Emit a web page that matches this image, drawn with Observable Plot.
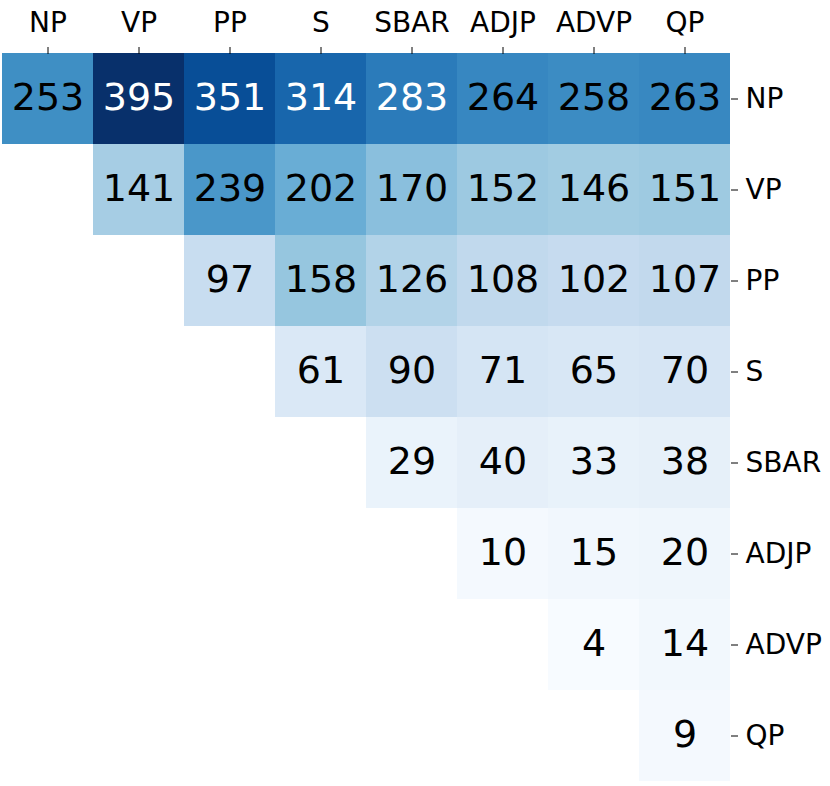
<!DOCTYPE html>
<html>
<head>
<meta charset="utf-8">
<script src="https://cdn.jsdelivr.net/npm/d3@7"></script>
<script src="https://cdn.jsdelivr.net/npm/@observablehq/plot@0.6"></script>
<style>
  html, body { margin: 0; padding: 0; background: #fff; }
  svg { display: block; }
</style>
</head>
<body>
<div id="chart"></div>
<script>
const labels = ["NP", "VP", "PP", "S", "SBAR", "ADJP", "ADVP", "QP"];
const rowNP   = [253, 395, 351, 314, 283, 264, 258, 263];
const rowVP   = [null, 141, 239, 202, 170, 152, 146, 151];
const rowPP   = [null, null, 97, 158, 126, 108, 102, 107];
const rowS    = [null, null, null, 61, 90, 71, 65, 70];
const rowSBAR = [null, null, null, null, 29, 40, 33, 38];
const rowADJP = [null, null, null, null, null, 10, 15, 20];
const rowADVP = [null, null, null, null, null, null, 4, 14];
const rowQP   = [null, null, null, null, null, null, null, 9];
const rows = [rowNP, rowVP, rowPP, rowS, rowSBAR, rowADJP, rowADVP, rowQP];
const blues = ["#f7fbff","#deebf7","#c6dbef","#9ecae1","#6baed6","#4292c6","#2171b5","#08519c","#08306b"];

const data = [];
rows.forEach((r, i) => r.forEach((v, j) => {
  if (v != null) data.push({row: labels[i], col: labels[j], value: v});
}));
const vals = data.map(d => d.value);

const chart = Plot.plot({
  width: 830,
  height: 786,
  marginLeft: 2,
  marginTop: 53,
  marginRight: 100,
  marginBottom: 5,
  style: {fontFamily: "DejaVu Sans", background: "#fff", color: "#000"},
  x: {domain: labels, padding: 0, axis: null},
  y: {domain: labels, padding: 0, axis: null},
  color: {type: "linear", domain: [d3.min(vals), d3.max(vals)], interpolate: d3.piecewise(d3.interpolateRgb, blues)},
  marks: [
    Plot.cell(data, {x: "col", y: "row", fill: "value", inset: 0, shapeRendering: "crispEdges"}),
    Plot.text(data, {x: "col", y: "row", text: d => String(d.value), fontSize: 38, dy: -1,
      fill: d => d.value > 275 ? "#fff" : "#000"}),
    Plot.axisX({anchor: "top", fontSize: 28, tickSize: 7, tickPadding: 15, label: null, stroke: "#000"}),
    Plot.axisY({anchor: "right", fontSize: 28, tickSize: 7, tickPadding: 8, label: null, stroke: "#000"})
  ]
});
document.getElementById("chart").appendChild(chart);
</script>
</body>
</html>
